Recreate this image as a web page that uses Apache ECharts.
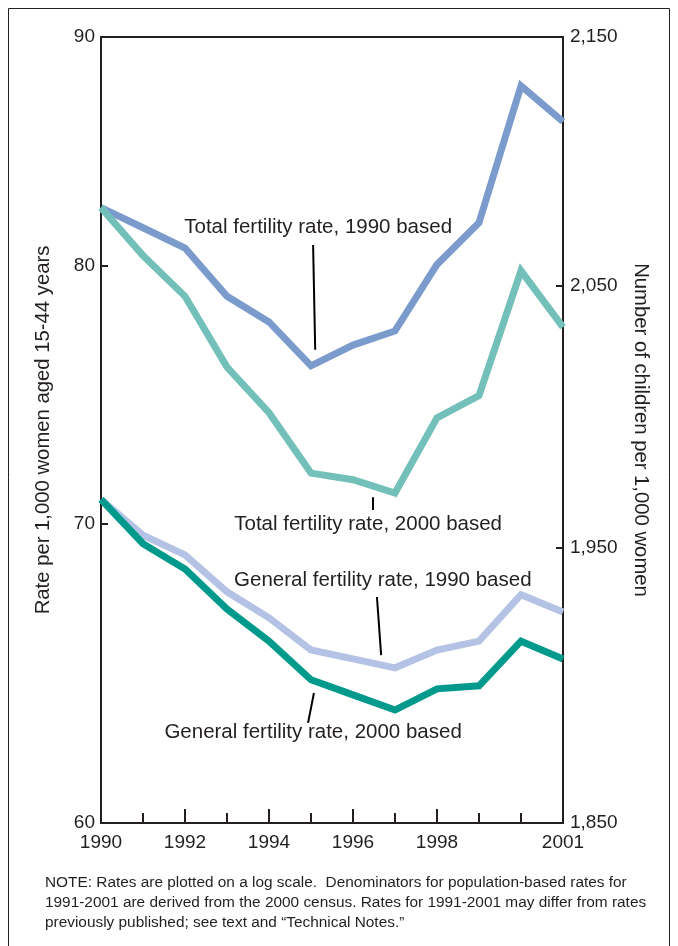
<!DOCTYPE html>
<html>
<head>
<meta charset="utf-8">
<script src="https://cdn.jsdelivr.net/npm/echarts@6/dist/echarts.min.js"></script>
<style>
html,body{margin:0;padding:0;background:#fff;}
#chart{width:678px;height:946px;}
</style>
</head>
<body>
<div id="chart"></div>
<script>
// ---- data ----
const years = [1990,1991,1992,1993,1994,1995,1996,1997,1998,1999,2000,2001];
const tfr1990Based = [2081.0,2073.0,2065.0,2046.0,2036.0,2019.0,2027.0,2032.5,2058.5,2075.0,2130.0,2115.5];
const tfr2000Based = [2081.0,2062.0,2046.0,2018.5,2001.0,1978.0,1975.5,1970.5,1999.0,2007.5,2056.0,2034.0];
const gfr1990Based = [70.9,69.6,68.9,67.6,66.7,65.6,65.3,65.0,65.6,65.9,67.5,66.9];
const gfr2000Based = [70.9,69.3,68.4,67.0,65.9,64.6,64.1,63.6,64.3,64.4,65.9,65.3];
const xLabelYears = [1990,1992,1994,1996,1998,2001];
const xMajorTicks = [1992,1994,1996,1998];
const xMinorTicks = [1991,1993,1995,1997,1999,2000];
const leftTicks = [60,70,80,90];
const rightTicks = [1850,1950,2050,2150];

const pairs = arr => years.map((y,i)=>[y,arr[i]]);
const FONT = '"Liberation Sans", Arial, Helvetica, sans-serif';
const INK = '#231f20';

function annot(label, labelAt, line){
  return {
    markPoint:{
      symbol:'circle', symbolSize:0, silent:true, animation:false,
      label:{show:true, position:'inside', formatter:label, color:INK, fontSize:20.5, fontFamily:FONT},
      data:[{coord:labelAt}]
    },
    markLine:{
      symbol:'none', silent:true, animation:false,
      lineStyle:{color:'#000', width:2, type:'solid'},
      label:{show:false},
      data:[[{coord:line[0]},{coord:line[1]}]]
    }
  };
}

const chart = echarts.init(document.getElementById('chart'), null, {renderer:'canvas'});
const lineSeries = (name, data, color, yIdx, ann) => Object.assign({
  name, type:'line', data:pairs(data), yAxisIndex:yIdx, xAxisIndex:0,
  showSymbol:false, symbol:'none', smooth:false,
  lineStyle:{color, width:7, cap:'butt', join:'miter'},
  itemStyle:{color}, z:3
}, ann);

chart.setOption({
  animation:false,
  backgroundColor:'#fff',
  textStyle:{fontFamily:FONT},
  grid:{left:101, right:115, top:37, bottom:123, show:true, borderColor:'#231f20', borderWidth:2, backgroundColor:'transparent'},
  xAxis:[{
    type:'value', min:1990, max:2001, position:'bottom',
    axisLine:{show:true, lineStyle:{color:INK, width:2}},
    axisTick:{show:true, inside:true, length:14, customValues:xMajorTicks, lineStyle:{color:INK, width:2}},
    axisLabel:{show:true, customValues:xLabelYears, color:INK, fontSize:19, fontFamily:FONT, margin:10, formatter:v=>String(v)},
    splitLine:{show:false}
  },{
    type:'value', min:1990, max:2001, position:'bottom', gridIndex:0,
    axisLine:{show:false},
    axisTick:{show:true, inside:true, length:10, customValues:xMinorTicks, lineStyle:{color:INK, width:2}},
    axisLabel:{show:false},
    splitLine:{show:false}
  }],
  yAxis:[{
    type:'log', logBase:10, min:60, max:90, position:'left',
    name:'Rate per 1,000 women aged 15-44 years', nameLocation:'middle', nameGap:48,
    nameTextStyle:{color:INK, fontSize:20.3, fontFamily:FONT},
    axisLine:{show:true, lineStyle:{color:INK, width:2}},
    axisTick:{show:true, inside:true, length:7, customValues:[70,80], lineStyle:{color:INK, width:2}},
    axisLabel:{show:true, customValues:leftTicks, color:INK, fontSize:19, fontFamily:FONT, margin:6, formatter:v=>String(Math.round(v))},
    splitLine:{show:false}
  },{
    type:'log', logBase:10, min:1850, max:2150, position:'right',
    name:'Number of children per 1,000 women', nameLocation:'middle', nameGap:68, nameRotate:-90,
    nameTextStyle:{color:INK, fontSize:20.3, fontFamily:FONT},
    axisLine:{show:true, lineStyle:{color:INK, width:2}},
    axisTick:{show:true, inside:true, length:7, customValues:[1950,2050], lineStyle:{color:INK, width:2}},
    axisLabel:{show:true, customValues:rightTicks, color:INK, fontSize:19, fontFamily:FONT, margin:7,
      formatter:v=>Math.round(v).toLocaleString('en-US')},
    splitLine:{show:false}
  }],
  series:[
    lineSeries('Total fertility rate, 1990 based', tfr1990Based, '#7b9bcd', 1,
      annot('Total fertility rate, 1990 based', [1995.17,2073.3], [[1995.05,2066.2],[1995.10,2025.2]])),
    lineSeries('Total fertility rate, 2000 based', tfr2000Based, '#72c0b9', 1,
      annot('Total fertility rate, 2000 based', [1996.36,1958.9], [[1996.48,1968.9],[1996.48,1964.1]])),
    lineSeries('General fertility rate, 1990 based', gfr1990Based, '#b4c3e5', 0,
      annot('General fertility rate, 1990 based', [1996.71,68.01], [[1996.57,67.42],[1996.67,65.43]])),
    lineSeries('General fertility rate, 2000 based', gfr2000Based, '#009a8d', 0,
      annot('General fertility rate, 2000 based', [1995.05,62.88], [[1995.07,64.16],[1994.93,63.18]]))
  ],
  graphic:[
    {type:'rect', shape:{x:8.5, y:8.5, width:661, height:960}, style:{fill:'none', stroke:'#231f20', lineWidth:1}, silent:true, z:-1},
    {type:'text', left:45, top:873, silent:true, style:{
      text:'NOTE: Rates are plotted on a log scale.  Denominators for population-based rates for\n1991-2001 are derived from the 2000 census. Rates for 1991-2001 may differ from rates\npreviously published; see text and \u201cTechnical Notes.\u201d',
      fontSize:15.4, lineHeight:20, fill:INK, fontFamily:FONT}}
  ]
});
</script>
</body>
</html>
